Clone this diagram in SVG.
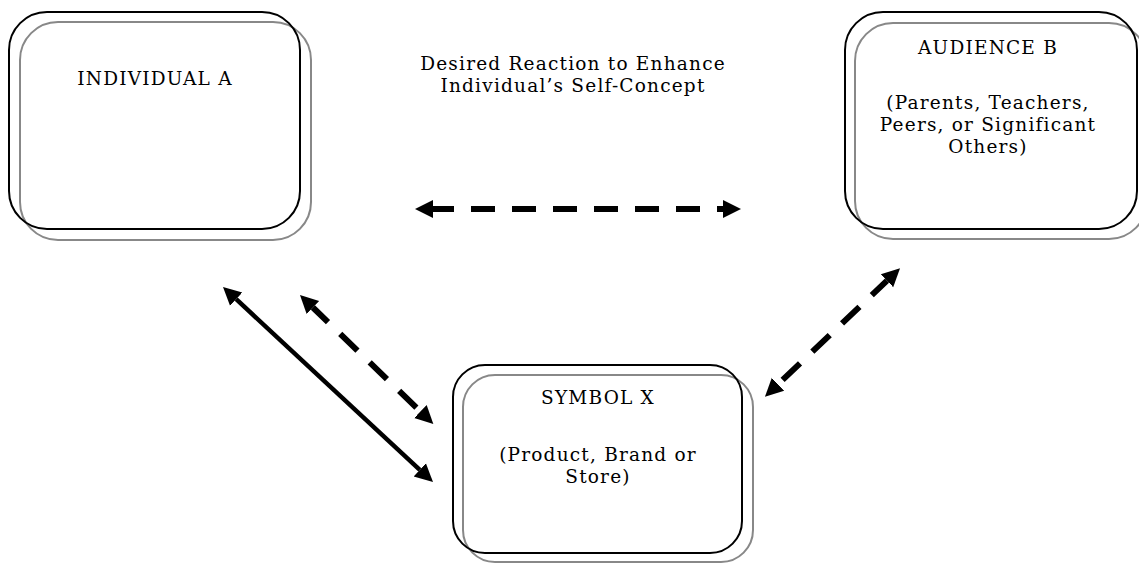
<svg xmlns="http://www.w3.org/2000/svg" width="1139" height="563" viewBox="0 0 1139 563">
  <style>
    .outer { fill: none; stroke: #000; stroke-width: 2; }
    .inner { fill: none; stroke: #888; stroke-width: 2; }
    .lbl { font-family: "DejaVu Serif", "Liberation Serif", serif; font-size: 18.5px; letter-spacing: 1.2px; fill: #000; text-anchor: middle; }
    .solid { fill: none; stroke: #000; stroke-width: 4.5; }
    .dash { fill: none; stroke: #000; stroke-width: 6; stroke-dasharray: 24 17; stroke-dashoffset: 3; }
  </style>
  <defs>
    <marker id="head" markerUnits="userSpaceOnUse" viewBox="0 -10 20 20" markerWidth="20" markerHeight="20" refX="0" refY="0" orient="auto-start-reverse">
      <path d="M0,-9 L18,0 L0,9 Z" fill="#000"/>
    </marker>
  </defs>
  <rect width="1139" height="563" fill="#fff"/>

  <g id="individual-a">
    <rect class="inner" x="20" y="22" width="291" height="218" rx="38"/>
    <rect class="outer" x="9" y="12" width="291" height="217" rx="38"/>
    <text class="lbl" x="155" y="85">INDIVIDUAL A</text>
  </g>

  <g id="audience-b">
    <rect class="inner" x="855" y="23" width="292" height="216" rx="38"/>
    <rect class="outer" x="845" y="12" width="292" height="217" rx="38"/>
    <text class="lbl" x="988" y="54">AUDIENCE B</text>
    <text class="lbl" x="988" y="109">(Parents, Teachers,</text>
    <text class="lbl" x="988" y="131">Peers, or Significant</text>
    <text class="lbl" x="988" y="153">Others)</text>
  </g>

  <g id="symbol-x">
    <rect class="inner" x="463" y="375" width="290" height="187" rx="32"/>
    <rect class="outer" x="453" y="365" width="289" height="188" rx="32"/>
    <text class="lbl" x="598" y="404">SYMBOL X</text>
    <text class="lbl" x="598" y="461">(Product, Brand or</text>
    <text class="lbl" x="598" y="483">Store)</text>
  </g>

  <g id="desired-reaction">
    <text class="lbl" x="573" y="70">Desired Reaction to Enhance</text>
    <text class="lbl" x="573" y="92">Individual’s Self-Concept</text>
  </g>

  <g id="connectors">
    <path class="dash" d="M433,209 L723,209" marker-start="url(#head)" marker-end="url(#head)"/>
    <path class="solid" d="M236.2,299.2 L419.8,469.8" marker-start="url(#head)" marker-end="url(#head)"/>
    <path class="dash" d="M312.9,307.5 L420.4,411.5" marker-start="url(#head)" marker-end="url(#head)"/>
    <path class="dash" d="M887,280.7 L778,384.3" marker-start="url(#head)" marker-end="url(#head)"/>
  </g>
</svg>
